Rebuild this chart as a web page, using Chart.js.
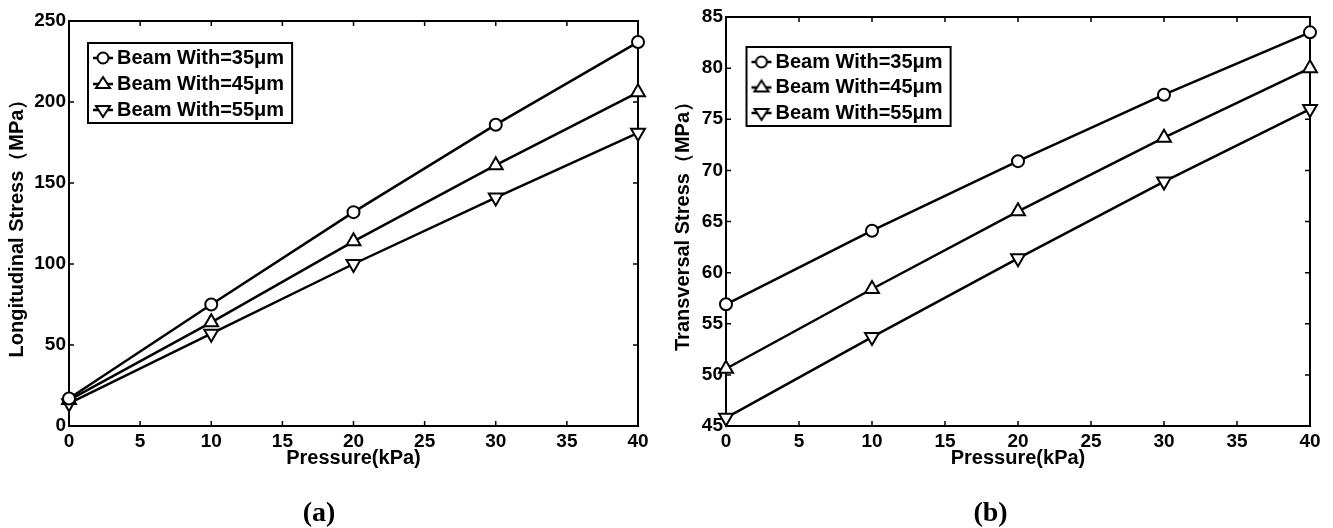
<!DOCTYPE html>
<html>
<head>
<meta charset="utf-8">
<script src="https://cdn.jsdelivr.net/npm/chart.js@4.4.1/dist/chart.umd.min.js"></script>
<style>
  body { margin: 0; background: #fff; }
  canvas { position: absolute; top: 0; }
  #chartA { left: 0; }
  #chartB { left: 671px; }
</style>
</head>
<body>
<canvas id="chartA" width="660" height="528"></canvas>
<canvas id="chartB" width="662" height="528"></canvas>
<script>
const pressure = [0, 10, 20, 30, 40];
const seriesNames = ['Beam With=35μm', 'Beam With=45μm', 'Beam With=55μm'];

const longitudinal35 = [17, 75, 132, 186, 237];
const longitudinal45 = [16, 64, 114, 161, 206];
const longitudinal55 = [14, 57, 100, 141, 181];

const transversal35 = [56.9, 64.1, 70.9, 77.4, 83.5];
const transversal45 = [50.6, 58.4, 66.0, 73.2, 80.0];
const transversal55 = [45.8, 53.7, 61.4, 68.9, 76.0];

const FONT = "'Liberation Sans', Arial, sans-serif";

function toPoints(values) {
  return pressure.map((p, i) => ({ x: p, y: values[i] }));
}

// small line+marker picture for legend entries
function legendIcon(style) {
  const c = document.createElement('canvas');
  c.width = 30;
  c.height = 20;
  const g = c.getContext('2d');
  g.strokeStyle = '#000';
  g.lineWidth = 2.5;
  g.beginPath();
  g.moveTo(8, 10);
  g.lineTo(28, 10);
  g.stroke();
  g.fillStyle = '#fff';
  g.lineWidth = 2;
  g.beginPath();
  if (style === 'circle') {
    g.arc(18, 10, 5.5, 0, Math.PI * 2);
  } else if (style === 'up') {
    g.moveTo(18, 3); g.lineTo(25, 14); g.lineTo(11, 14); g.closePath();
  } else {
    g.moveTo(18, 17); g.lineTo(25, 6); g.lineTo(11, 6); g.closePath();
  }
  g.fill();
  g.stroke();
  return c;
}
const icons = [legendIcon('circle'), legendIcon('up'), legendIcon('down')];

function makeDatasets(values) {
  const styles = [
    { pointStyle: 'circle', pointRadius: 6, rotation: 0 },
    { pointStyle: 'triangle', pointRadius: 8, rotation: 0 },
    { pointStyle: 'triangle', pointRadius: 8, rotation: 180 },
  ];
  return values.map((v, i) => ({
    label: seriesNames[i],
    data: toPoints(v),
    borderColor: '#000',
    borderWidth: 2.5,
    backgroundColor: '#fff',
    pointBackgroundColor: '#fff',
    pointBorderColor: '#000',
    pointBorderWidth: 2,
    pointStyle: styles[i].pointStyle,
    pointRadius: styles[i].pointRadius,
    pointRotation: styles[i].rotation,
    tension: 0,
    clip: false,
  }));
}

const frameTicks = {
  id: 'frameTicks',
  afterLayout(chart, args, opts) {
    const lg = chart.legend;
    lg.left += opts.dx;
    lg.right += opts.dx;
  },
  beforeDatasetsDraw(chart) {
    const { ctx, chartArea: a, scales: { x, y } } = chart;
    ctx.save();
    ctx.strokeStyle = '#000';
    ctx.lineWidth = 2;
    ctx.strokeRect(a.left, a.top, a.right - a.left, a.bottom - a.top);
    ctx.lineWidth = 1.5;
    ctx.beginPath();
    x.ticks.forEach((t) => {
      const px = x.getPixelForValue(t.value);
      ctx.moveTo(px, a.bottom); ctx.lineTo(px, a.bottom - 5);
      ctx.moveTo(px, a.top); ctx.lineTo(px, a.top + 5);
    });
    y.ticks.forEach((t) => {
      const py = y.getPixelForValue(t.value);
      ctx.moveTo(a.left, py); ctx.lineTo(a.left + 5, py);
      ctx.moveTo(a.right, py); ctx.lineTo(a.right - 5, py);
    });
    ctx.stroke();
    ctx.restore();
  },
  afterDraw(chart) {
    const boxes = chart.legend.legendHitBoxes;
    if (!boxes || !boxes.length) return;
    const left = Math.min(...boxes.map((b) => b.left)) - 5;
    const top = Math.min(...boxes.map((b) => b.top)) - 5;
    const right = Math.max(...boxes.map((b) => b.left + b.width)) + 8;
    const bottom = Math.max(...boxes.map((b) => b.top + b.height)) + 3;
    const ctx = chart.ctx;
    ctx.save();
    ctx.strokeStyle = '#000';
    ctx.lineWidth = 2;
    ctx.strokeRect(left, top, right - left, bottom - top);
    ctx.restore();
  },
};

function makeChart(id, values, cfg) {
  return new Chart(document.getElementById(id), {
    type: 'line',
    data: { datasets: makeDatasets(values) },
    plugins: [frameTicks],
    options: {
      responsive: false,
      animation: false,
      devicePixelRatio: 1,
      layout: { padding: { left: 0, right: cfg.padRight, top: cfg.padTop, bottom: 0 } },
      plugins: {
        frameTicks: { dx: cfg.legendDx },
        tooltip: { enabled: false },
        legend: {
          position: 'chartArea',
          align: 'start',
          title: {
            display: true,
            text: '',
            font: { size: 10, lineHeight: 1 },
            padding: { top: cfg.legendDy - 10, bottom: 0 },
          },
          labels: {
            usePointStyle: true,
            pointStyleWidth: 14,
            padding: cfg.legendPad,
            color: '#000',
            font: { family: FONT, size: 20, weight: 'bold' },
            generateLabels(chart) {
              return chart.data.datasets.map((ds, i) => ({
                text: ds.label,
                pointStyle: icons[i],
                fontColor: '#000',
                strokeStyle: '#000',
                fillStyle: '#fff',
                lineWidth: 0,
                hidden: false,
                datasetIndex: i,
              }));
            },
          },
        },
        title: {
          display: true,
          position: 'bottom',
          text: cfg.caption,
          color: '#000',
          font: { family: "'Liberation Serif', 'Times New Roman', serif", size: 28, weight: 'bold', lineHeight: 1 },
          padding: { top: 30, bottom: 0 },
        },
      },
      scales: {
        x: {
          type: 'linear',
          min: 0,
          max: 40,
          grid: { display: false, drawTicks: false },
          border: { display: false },
          ticks: {
            stepSize: 5,
            padding: 4,
            color: '#000',
            maxRotation: 0,
            font: { family: FONT, size: 19, weight: 'bold' },
          },
          title: {
            display: true,
            text: 'Pressure(kPa)',
            color: '#000',
            font: { family: FONT, size: 20, weight: 'bold' },
            padding: { top: 0, bottom: 0 },
          },
          afterFit(scale) { scale.height = 44; },
        },
        y: {
          min: cfg.yMin,
          max: cfg.yMax,
          grid: { display: false, drawTicks: false },
          border: { display: false },
          ticks: {
            stepSize: cfg.yStep,
            padding: 3,
            color: '#000',
            font: { family: FONT, size: 19, weight: 'bold' },
          },
          title: {
            display: true,
            text: cfg.yTitle,
            color: '#000',
            font: { family: FONT, size: 20, weight: 'bold' },
            padding: { top: cfg.yTitlePad, bottom: 0 },
          },
          afterFit(scale) { scale.width = cfg.yWidth; },
        },
      },
    },
  });
}

makeChart('chartA', [longitudinal35, longitudinal45, longitudinal55], {
  caption: '(a)',
  yTitle: 'Longitudinal Stress（MPa）',
  yMin: 0, yMax: 250, yStep: 50,
  yWidth: 69, yTitlePad: 5,
  padRight: 22, padTop: 21,
  legendDx: 18, legendDy: 42, legendPad: 6,
});

makeChart('chartB', [transversal35, transversal45, transversal55], {
  caption: '(b)',
  yTitle: 'Transversal Stress（MPa）',
  yMin: 45, yMax: 85, yStep: 5,
  yWidth: 55, yTitlePad: 0,
  padRight: 23, padTop: 17,
  legendDx: 20, legendDy: 46.5, legendPad: 5.5,
});
</script>
</body>
</html>
